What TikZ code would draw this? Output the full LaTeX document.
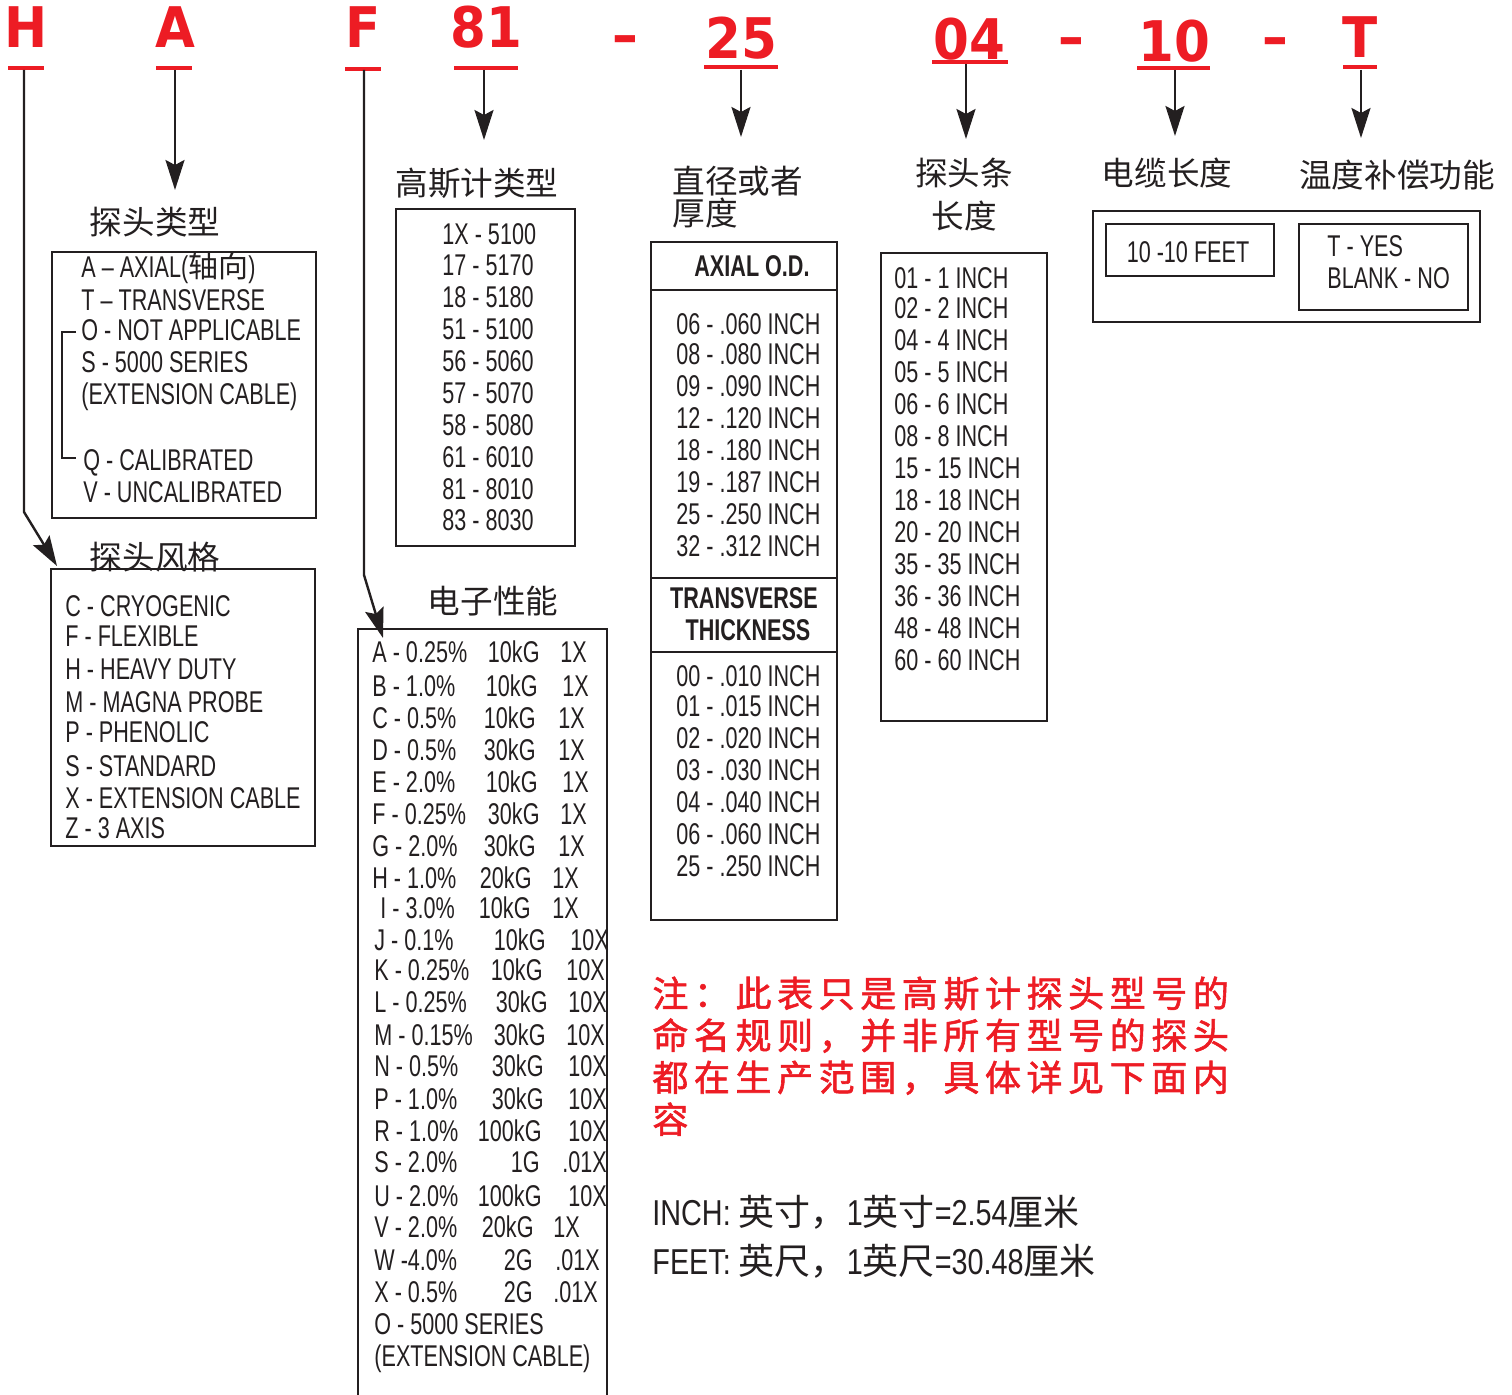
\documentclass[tikz,border=0pt]{standalone}
\usepackage{fontspec}
\setmainfont{Liberation Sans}[FakeStretch=0.72]
\newfontfamily\cjk{Noto Sans CJK SC}
\newfontfamily\notefont{Noto Sans CJK SC}[FakeBold=1.6,LetterSpace=15.5]
\newfontfamily\codefont{DejaVu Sans}[FakeStretch=0.92]
\newfontfamily\widefont{Liberation Sans}[FakeStretch=0.8]
\usetikzlibrary{arrows.meta}
\definecolor{codered}{HTML}{ED1C24}
\definecolor{ink}{HTML}{231F20}
\tikzset{
  code/.style={text=codered, font=\codefont\bfseries\fontsize{28}{30}\selectfont, inner sep=0pt, anchor=base},
  uline/.style={draw=codered, line width=2.4pt},
  arr/.style={line width=1.2pt, -{Stealth[length=15pt,width=9.5pt,inset=2.5pt]}},
  box/.style={line width=1.4pt},
  txt/.style={font=\fontsize{15}{18}\selectfont, inner sep=0pt, anchor=base west},
  btxt/.style={font=\bfseries\fontsize{15}{18}\selectfont, inner sep=0pt, anchor=base},
  ttl/.style={font=\cjk\fontsize{16.3}{16}\selectfont, inner sep=0pt},
  note/.style={text=codered, font=\notefont\fontsize{18}{21}\selectfont, inner sep=0pt, anchor=base west},
}
\begin{document}
\begin{tikzpicture}[x=0.5pt,y=-0.5pt,color=ink]
    \useasboundingbox (0,0) rectangle (1512,1395);
    % model code
    \node[code] (cH) at (26,48) {H};
    \node[code] (cA) at (175,48) {A};
    \node[code] (cF) at (363,48) {F};
    \node[code] (c81) at (486,48) {81};
    \node[code] (d1) at (625,55) {–};
    \node[code] (c25) at (741,59) {25};
    \node[code] (c04) at (969,60) {04};
    \node[code] (d2) at (1071,57) {–};
    \node[code] (c10) at (1174,62) {10};
    \node[code] (d3) at (1275,57) {–};
    \node[code] (cT) at (1360,58) {T};
    \foreach \a/\b/\y in {8/44/68, 156/192/68, 345/381/69, 454/518/68, 704/778/67, 932/1008/62, 1137/1210/68, 1343/1377/67}
        \draw[uline] (\a,\y) -- (\b,\y); %underlines

    % titles
    \node[ttl] (tType) at (155,222) {探头类型};
    \node[ttl] (tStyle) at (155,557) {探头风格};
    \node[ttl] (tGauss) at (477,183) {高斯计类型};
    \node[ttl] (tPerf) at (493,601) {电子性能};
    \node[ttl, align=left, anchor=west] (tDia) at (672,197) {直径或者\\厚度};
    \node[ttl, align=center, font=\cjk\fontsize{16.3}{21.5}\selectfont] (tLen) at (964,195) {探头条\\长度};
    \node[ttl] (tCable) at (1167,173) {电缆长度};
    \node[ttl] (tComp) at (1397,175) {温度补偿功能};

    % arrows
    \coordinate (sH) at (24,70); \coordinate (bH) at (24,512); \coordinate (eH) at (57,566);
    \coordinate (sF) at (364,70); \coordinate (bF) at (364,575); \coordinate (eF) at (383,638);
    \draw[arr] (sH) -- (bH) -- (eH);
    \draw[arr] (sF) -- (bF) -- (eF);
    \foreach \n/\x/\a/\b in {A/175/70/190, 81/484/70/140, 25/741/70/137, 04/966/64/139, 10/1175/70/136, T/1361/70/138} {
        \coordinate (s\n) at (\x,\a); \coordinate (e\n) at (\x,\b);
        \draw[arr] (s\n) -- (e\n);
    }

    % probe type
    \draw[box] (52,252) rectangle (316,518);
    \draw[line width=0.9pt] (76,332) -- (62,332) -- (62,458) -- (76,458);
    \foreach \y/\x/\t [count=\i] in {278/81/{A – AXIAL({\cjk 轴向})}, 311/81/T – TRANSVERSE, 341/81/O - NOT APPLICABLE, 373/81/S - 5000 SERIES, 405/81/(EXTENSION CABLE), 471/83/Q - CALIBRATED, 503/83/V - UNCALIBRATED}
        \node[txt] (ty\i) at (\x,\y) {\t};

    % probe style
    \draw[box] (51,569) rectangle (315,846);
    \foreach \y/\t [count=\i] in {617/C - CRYOGENIC, 647/F - FLEXIBLE, 680/H - HEAVY DUTY, 713/M - MAGNA PROBE, 743/P - PHENOLIC, 777/S - STANDARD, 809/X - EXTENSION CABLE, 839/Z - 3 AXIS}
        \node[txt] (st\i) at (65,\y) {\t};

    % gaussmeter type
    \draw[box] (396,209) rectangle (575,546);
    \foreach \y/\t [count=\i] in {245/1X - 5100, 276/17 - 5170, 308/18 - 5180, 340/51 - 5100, 372/56 - 5060, 404/57 - 5070, 436/58 - 5080, 468/61 - 6010, 500/81 - 8010, 531/83 - 8030}
        \node[txt] (ga\i) at (442,\y) {\t};

    % performance
    \draw[box] (358,1402) |- (607,629) -- (607,1402);
    \foreach \y/\ax/\a/\bx/\b/\cx/\c [count=\i] in {
        663/372/A - 0.25\%/540/10kG/560/1X, 697/372/B - 1.0\%/538/10kG/562/1X,
        729/372/C - 0.5\%/536/10kG/558/1X, 761/372/D - 0.5\%/536/30kG/558/1X,
        793/372/E - 2.0\%/538/10kG/562/1X, 825/372/F - 0.25\%/540/30kG/560/1X,
        857/372/G - 2.0\%/536/30kG/558/1X, 889/372/H - 1.0\%/532/20kG/552/1X,
        919/380/I - 3.0\%/531/10kG/552/1X, 951/374/J - 0.1\%/546/10kG/570/10X,
        981/374/K - 0.25\%/543/10kG/566/10X, 1013/374/L - 0.25\%/548/30kG/568/10X,
        1045/374/M - 0.15\%/546/30kG/566/10X, 1077/374/N - 0.5\%/544/30kG/568/10X,
        1109/374/P - 1.0\%/544/30kG/568/10X, 1141/374/R - 1.0\%/542/100kG/568/10X,
        1173/374/S - 2.0\%/540/1G/562/.01X, 1206/374/U - 2.0\%/542/100kG/568/10X,
        1238/374/V - 2.0\%/534/20kG/553/1X, 1270/374/W -4.0\%/533/2G/555/.01X,
        1302/374/X - 0.5\%/533/2G/553/.01X} {
        \node[txt] (pa\i) at (\ax,\y) {\a};
        \node[txt, anchor=base east] (pb\i) at (\bx,\y) {\b};
        \node[txt] (pc\i) at (\cx,\y) {\c};
    }
    \node[txt] (po1) at (374,1334) {O - 5000 SERIES};
    \node[txt] (po2) at (374,1366) {(EXTENSION CABLE)};

    % diameter / thickness
    \draw[box] (651,242) rectangle (837,920);
    \draw[box] (651,290) -- (837,290); \draw[box] (651,578) -- (837,578); \draw[box] (651,652) -- (837,652);
    \node[btxt] (hAx) at (752,277) {AXIAL O.D.};
    \node[btxt] (hTr1) at (744,609) {TRANSVERSE};
    \node[btxt] (hTr2) at (748,641) {THICKNESS};
    \foreach \y/\t [count=\i] in {335/06 - .060 INCH, 365/08 - .080 INCH, 397/09 - .090 INCH, 429/12 - .120 INCH, 461/18 - .180 INCH, 493/19 - .187 INCH, 525/25 - .250 INCH, 557/32 - .312 INCH}
        \node[txt] (ax\i) at (676,\y) {\t};
    \foreach \y/\t [count=\i] in {687/00 - .010 INCH, 717/01 - .015 INCH, 749/02 - .020 INCH, 781/03 - .030 INCH, 813/04 - .040 INCH, 845/06 - .060 INCH, 877/25 - .250 INCH}
        \node[txt] (tr\i) at (676,\y) {\t};

    % probe length
    \draw[box] (881,253) rectangle (1047,721);
    \foreach \y/\t [count=\i] in {289/01 - 1 INCH, 319/02 - 2 INCH, 351/04 - 4 INCH, 383/05 - 5 INCH, 415/06 - 6 INCH, 447/08 - 8 INCH, 479/15 - 15 INCH, 511/18 - 18 INCH, 543/20 - 20 INCH, 575/35 - 35 INCH, 607/36 - 36 INCH, 639/48 - 48 INCH, 671/60 - 60 INCH}
        \node[txt] (le\i) at (894,\y) {\t};

    % cable length, compensation
    \draw[box] (1093,211) rectangle (1480,322);
    \draw[box] (1106,224) rectangle (1274,276);
    \draw[box] (1299,224) rectangle (1468,310);
    \node[txt, anchor=base] (ca1) at (1188,263) {10 -10 FEET};
    \node[txt] (co1) at (1327,257) {T - YES};
    \node[txt] (co2) at (1327,289) {BLANK - NO};

    % note
    \foreach \t [count=\i] in {注：此表只是高斯计探头型号的, 命名规则，并非所有型号的探头, 都在生产范围，具体详见下面内, 容}
        \node[note] (note\i) at (652,965+42*\i) {\t};
    \node[txt, font=\widefont\fontsize{18}{21}\selectfont] (inch) at (652,1225) {INCH: {\cjk 英寸，}1{\cjk 英寸}=2.54{\cjk 厘米}};
    \node[txt, font=\widefont\fontsize{18}{21}\selectfont] (feet) at (652,1275) {FEET: {\cjk 英尺，}1{\cjk 英尺}=30.48{\cjk 厘米}};
\end{tikzpicture}
\end{document}
